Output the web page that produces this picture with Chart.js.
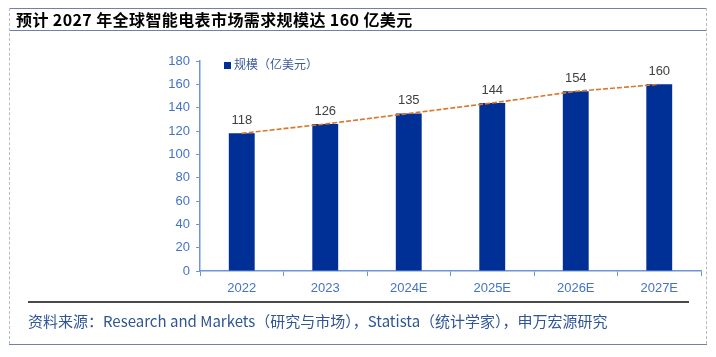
<!DOCTYPE html>
<html>
<head>
<meta charset="utf-8">
<script src="https://cdn.jsdelivr.net/npm/chart.js@4"></script>
<style>
  html, body { margin:0; padding:0; background:#fff; }
  #wrap { position:relative; width:716px; height:357px; overflow:hidden; background:#fff; }
  #c { position:absolute; left:0; top:0; }
  .abs { position:absolute; }
  #title { left:16px; top:8px; height:22px; line-height:22px; font-family:"Noto Sans CJK SC","Noto Sans",sans-serif; font-weight:bold; font-size:16px; letter-spacing:0.4px; color:#000; white-space:nowrap; }
  #legend { left:224px; top:55px; height:18px; line-height:18px; font-family:"Noto Sans CJK SC",sans-serif; font-size:12px; color:#3C5A9A; white-space:nowrap; }
  #legend span.sw { display:inline-block; width:7px; height:7px; background:#002F96; margin-right:3px; vertical-align:0px; }
  #source { left:28px; top:310px; height:22px; line-height:22px; font-family:"Noto Sans CJK SC",sans-serif; font-size:15px; color:#2E5597; white-space:nowrap; }
</style>
</head>
<body>
<div id="wrap">
  <canvas id="c" width="716" height="357"></canvas>
  <div class="abs" style="left:9px;top:8px;width:698px;height:0;border-top:1.5px solid #6B82AC;"></div>
  <div class="abs" style="left:9px;top:30px;width:698px;height:0;border-top:1.5px solid #6B82AC;"></div>
  <div class="abs" style="left:9px;top:344px;width:698px;height:0;border-top:1.5px solid #6B82AC;"></div>
  <div class="abs" style="left:9px;top:8px;width:0;height:336px;border-left:1px dashed #BBBBBB;"></div>
  <div class="abs" style="left:706px;top:8px;width:0;height:336px;border-left:1px dashed #BBBBBB;"></div>
  <div class="abs" style="left:28px;top:301px;width:661px;height:0;border-top:2.5px solid #4A4A4A;"></div>
  <div id="title" class="abs">预计 2027 年全球智能电表市场需求规模达 160 亿美元</div>
  <div id="legend" class="abs"><span class="sw"></span>规模（亿美元）</div>
  <div id="source" class="abs">资料来源：Research and Markets（研究与市场），Statista（统计学家），申万宏源研究</div>
</div>
<script>
const categories = ['2022', '2023', '2024E', '2025E', '2026E', '2027E'];
const marketSize = [118, 126, 135, 144, 154, 160];
const yTicks = [0, 20, 40, 60, 80, 100, 120, 140, 160, 180];

const tickColor = '#4472C4';
const axisColor = '#7094DA';
const barColor = '#002F96';

const valueLabels = {
  id: 'valueLabels',
  afterDatasetsDraw(chart) {
    const ctx = chart.ctx;
    const meta = chart.getDatasetMeta(1);
    ctx.save();
    ctx.font = '13px "Liberation Sans", Arial, sans-serif';
    ctx.fillStyle = '#404040';
    ctx.textAlign = 'center';
    ctx.textBaseline = 'middle';
    meta.data.forEach((bar, i) => {
      ctx.fillText(String(marketSize[i]), bar.x, bar.y - 13);
    });
    ctx.restore();
  }
};

new Chart(document.getElementById('c'), {
  type: 'bar',
  data: {
    labels: categories,
    datasets: [
      {
        type: 'line',
        label: '趋势',
        data: marketSize,
        borderColor: '#D9782D',
        borderWidth: 1.6,
        borderDash: [5, 2],
        pointRadius: 0,
        fill: false,
        tension: 0,
        order: 0
      },
      {
        type: 'bar',
        label: '规模（亿美元）',
        data: marketSize,
        backgroundColor: barColor,
        barPercentage: 0.31,
        categoryPercentage: 1,
        order: 1
      }
    ]
  },
  options: {
    responsive: false,
    animation: false,
    devicePixelRatio: 1,
    layout: { padding: { left: 0, top: 61, right: 15, bottom: 0 } },
    plugins: { legend: { display: false }, tooltip: { enabled: false }, title: { display: false } },
    scales: {
      x: {
        offset: true,
        grid: { offset: true, drawOnChartArea: false, drawTicks: true, tickLength: 5, color: axisColor, lineWidth: 1 },
        border: { color: axisColor, width: 1.5 },
        ticks: { color: tickColor, font: { family: '"Liberation Sans", Arial, sans-serif', size: 13 }, padding: 5, maxRotation: 0 },
        afterFit(scale) { scale.height = 86; }
      },
      y: {
        min: 0,
        max: 180,
        afterBuildTicks(scale) { scale.ticks = yTicks.map(v => ({ value: v })); },
        grid: { drawOnChartArea: false, drawTicks: true, tickLength: 4, color: axisColor, lineWidth: 1 },
        border: { color: axisColor, width: 1.5 },
        ticks: { color: tickColor, font: { family: '"Liberation Sans", Arial, sans-serif', size: 13 }, padding: 6 },
        afterFit(scale) { scale.width = 200; }
      }
    }
  },
  plugins: [valueLabels]
});
</script>
</body>
</html>
